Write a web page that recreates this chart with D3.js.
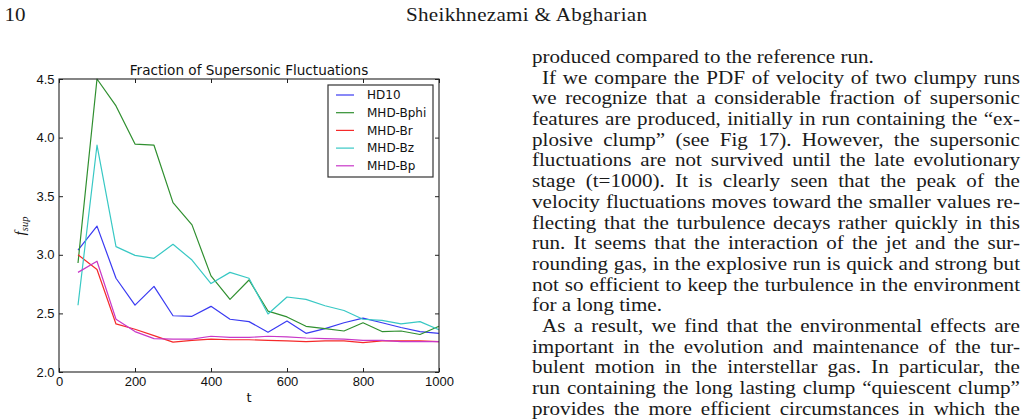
<!DOCTYPE html>
<html lang="en">
<head>
<meta charset="utf-8">
<title>Fraction of Supersonic Fluctuations</title>
<script src="https://d3js.org/d3.v7.min.js"></script>
<style>
  body { margin: 0; background: #fff; }
  svg { display: block; }
</style>
</head>
<body>
<script>
// data
const times = [50, 100, 150, 200, 250, 300, 350, 400, 450, 500, 550, 600, 650, 700, 750, 800, 850, 900, 950, 1000];
const seriesNames = ["HD10", "MHD-Bphi", "MHD-Br", "MHD-Bz", "MHD-Bp"];
const hd10 = [3.04, 3.245, 2.80, 2.57, 2.73, 2.48, 2.475, 2.56, 2.45, 2.43, 2.34, 2.435, 2.33, 2.37, 2.42, 2.46, 2.42, 2.38, 2.345, 2.33];
const mhdBphi = [2.93, 4.50, 4.27, 3.945, 3.935, 3.445, 3.255, 2.82, 2.62, 2.785, 2.52, 2.47, 2.39, 2.37, 2.35, 2.42, 2.345, 2.35, 2.32, 2.39];
const mhdBr = [3.00, 2.875, 2.41, 2.365, 2.31, 2.255, 2.27, 2.28, 2.275, 2.275, 2.27, 2.265, 2.26, 2.265, 2.265, 2.25, 2.265, 2.265, 2.265, 2.26];
const mhdBz = [2.57, 3.935, 3.07, 2.995, 2.97, 3.09, 2.955, 2.755, 2.85, 2.80, 2.495, 2.64, 2.62, 2.565, 2.525, 2.45, 2.44, 2.41, 2.43, 2.36];
const mhdBp = [2.85, 2.945, 2.45, 2.345, 2.285, 2.28, 2.28, 2.305, 2.295, 2.295, 2.305, 2.30, 2.29, 2.285, 2.28, 2.27, 2.27, 2.26, 2.26, 2.26];
const seriesColors = ["#3a3af2", "#2f8f2f", "#f52a2a", "#38c8c4", "#c838c8"];
const xTicks = [0, 200, 400, 600, 800, 1000];
const yTicks = [2.0, 2.5, 3.0, 3.5, 4.0, 4.5];

// page text around the figure
const pageNumber = "10";
const runningHead = "Sheikhnezami & Abgharian";
const bodyLines = [
  ["produced compared to the reference run.", "last"],
  ["If we compare the PDF of velocity of two clumpy runs", "indent"],
  ["we recognize that a considerable fraction of supersonic", ""],
  ["features are produced, initially in run containing the \u201cex-", ""],
  ["plosive clump\u201d (see Fig 17). However, the supersonic", ""],
  ["fluctuations are not survived until the late evolutionary", ""],
  ["stage (t=1000). It is clearly seen that the peak of the", ""],
  ["velocity fluctuations moves toward the smaller values re-", ""],
  ["flecting that the turbulence decays rather quickly in this", ""],
  ["run. It seems that the interaction of the jet and the sur-", ""],
  ["rounding gas, in the explosive run is quick and strong but", ""],
  ["not so efficient to keep the turbulence in the environment", ""],
  ["for a long time.", "last"],
  ["As a result, we find that the environmental effects are", "indent"],
  ["important in the evolution and maintenance of the tur-", ""],
  ["bulent motion in the interstellar gas. In particular, the", ""],
  ["run containing the long lasting clump \u201cquiescent clump\u201d", ""],
  ["provides the more efficient circumstances in which the", ""]
];

const W = 1027, H = 420;
const svg = d3.select("body").append("svg").attr("width", W).attr("height", H);

// ---- page text (serif, widened a bit to look like the TeX face) ----
const serif = "'Liberation Serif', 'DejaVu Serif', serif";
const sx = 1.14;
const page = svg.append("g")
  .attr("transform", `scale(${sx},1)`)
  .attr("font-family", serif).attr("font-size", 18.5).attr("fill", "#1a1a1a");

page.append("text").attr("x", 4.5 / sx).attr("y", 21).text(pageNumber);
page.append("text").attr("x", 406 / sx).attr("y", 21)
  .attr("textLength", 241 / sx).attr("lengthAdjust", "spacing")
  .text(runningHead);

const colLeft = 532, colRight = 1020, indent = 10, firstBase = 63, lineGap = 20.7;

function setLine(str, kind, yb) {
  const x0 = (colLeft + (kind === "indent" ? indent : 0)) / sx;
  const x1 = colRight / sx;
  const t = page.append("text").attr("y", yb);
  if (kind === "last") {
    t.attr("x", x0).text(str);
    return;
  }
  const words = str.split(" ");
  const spans = words.map(w => t.append("tspan").text(w));
  const widths = spans.map(s => s.node().getComputedTextLength());
  const gap = (x1 - x0 - d3.sum(widths)) / (words.length - 1);
  let cx = x0;
  spans.forEach((s, i) => { s.attr("x", cx); cx += widths[i] + gap; });
}
bodyLines.forEach((d, i) => setLine(d[0], d[1], firstBase + i * lineGap));

// ---- chart ----
const plot = { left: 59, right: 439, top: 79, bottom: 372 };
const x = d3.scaleLinear().domain([0, 1000]).range([plot.left, plot.right]);
const y = d3.scaleLinear().domain([2.0, 4.5]).range([plot.bottom, plot.top]);

const chart = svg.append("g").attr("font-family", "'DejaVu Sans', sans-serif");

const seriesValues = [hd10, mhdBphi, mhdBr, mhdBz, mhdBp];
const line = d3.line().x(d => x(d[0])).y(d => y(d[1]));

chart.append("g")
  .selectAll("path")
  .data(seriesValues)
  .join("path")
  .attr("fill", "none")
  .attr("stroke", (d, i) => seriesColors[i])
  .attr("stroke-width", 1.2)
  .attr("stroke-linejoin", "round")
  .attr("d", vals => line(vals.map((v, i) => [times[i], v])));

// axes with inward ticks on all four sides
function styleAxis(g) {
  g.select(".domain").remove();
  g.selectAll(".tick line").attr("stroke", "#222");
  g.selectAll(".tick text").attr("fill", "#111").attr("font-size", 13);
}
chart.append("g").attr("transform", `translate(0,${plot.bottom})`)
  .call(d3.axisBottom(x).tickValues(xTicks).tickFormat(d3.format("d")).tickSizeInner(-4).tickSizeOuter(0).tickPadding(4.5))
  .call(styleAxis);
chart.append("g").attr("transform", `translate(${plot.left},0)`)
  .call(d3.axisLeft(y).tickValues(yTicks).tickFormat(d3.format(".1f")).tickSizeInner(-4).tickSizeOuter(0).tickPadding(4.5))
  .call(styleAxis);
chart.append("g").attr("transform", `translate(0,${plot.top})`)
  .call(d3.axisTop(x).tickValues(xTicks).tickFormat("").tickSizeInner(-4).tickSizeOuter(0))
  .call(styleAxis);
chart.append("g").attr("transform", `translate(${plot.right},0)`)
  .call(d3.axisRight(y).tickValues(yTicks).tickFormat("").tickSizeInner(-4).tickSizeOuter(0))
  .call(styleAxis);

chart.append("rect")
  .attr("x", plot.left).attr("y", plot.top)
  .attr("width", plot.right - plot.left).attr("height", plot.bottom - plot.top)
  .attr("fill", "none").attr("stroke", "#222").attr("stroke-width", 1.1);

chart.append("text")
  .attr("x", (plot.left + plot.right) / 2).attr("y", 74.5)
  .attr("text-anchor", "middle").attr("font-size", 13.6).attr("fill", "#111")
  .text("Fraction of Supersonic Fluctuations");

chart.append("text")
  .attr("x", (plot.left + plot.right) / 2).attr("y", 402)
  .attr("text-anchor", "middle").attr("font-size", 13).attr("fill", "#111")
  .text("t");

// y label: f_sup
const ylab = chart.append("text")
  .attr("transform", "translate(25,226) rotate(-90)")
  .attr("text-anchor", "middle")
  .attr("font-family", serif).attr("font-style", "italic").attr("fill", "#111");
ylab.append("tspan").attr("font-size", 15).text("f");
ylab.append("tspan").attr("font-size", 10.5).attr("dy", 3).text("sup");

// legend
const legend = chart.append("g");
legend.append("rect")
  .attr("x", 328).attr("y", 85).attr("width", 105).attr("height", 92)
  .attr("fill", "#fff").attr("stroke", "#333").attr("stroke-width", 1.2);
const rows = legend.selectAll("g.row")
  .data(seriesNames)
  .join("g").attr("class", "row")
  .attr("transform", (d, i) => `translate(0,${95 + i * 17.7})`);
rows.append("line")
  .attr("x1", 336).attr("x2", 354)
  .attr("stroke", (d, i) => seriesColors[i]).attr("stroke-width", 1.2);
rows.append("text")
  .attr("x", 367).attr("dy", "0.36em")
  .attr("font-size", 12).attr("fill", "#111")
  .text(d => d);
</script>
</body>
</html>
